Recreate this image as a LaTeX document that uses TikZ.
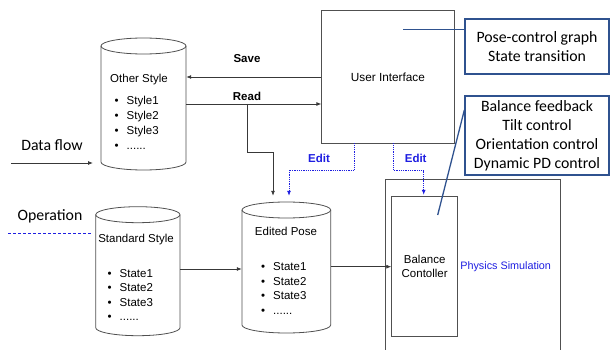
\documentclass[tikz,border=0pt]{standalone}
\usepackage{fontspec}
\setmainfont{Liberation Sans}
\newfontfamily\calib{Carlito}
\usetikzlibrary{arrows.meta}
\definecolor{gline}{RGB}{80,80,80}
\definecolor{eblue}{RGB}{30,30,225}
\definecolor{cblue}{RGB}{47,82,143}
\newcommand\drumcyl[5]{%
  \pgfmathsetmacro\cxr{(#4-#2)/2}%
  \node[inner sep=0pt, minimum width={(#4-#2)*1pt}, minimum height={(#5-#3)*1pt}] (#1) at ({(#2+#4)/2},{(#3+#5)/2}) {};
  \draw[cylline] (#2,{#3+8}) -- (#2,{#5-8})
     arc[start angle=180,end angle=360,x radius=\cxr pt,y radius=8pt]
     -- (#4,{#3+8})
     arc[start angle=0,end angle=180,x radius=\cxr pt,y radius=8pt] -- cycle;
  \draw[cylline] (#2,{#3+8}) arc[start angle=180,end angle=360,x radius=\cxr pt,y radius=8pt];
}
\begin{document}
\begin{tikzpicture}[x=1pt,y=-1pt,
  font=\fontsize{11.5}{14}\selectfont,
  cylline/.style={draw=gline, line width=0.8pt},
  line/.style={draw=gline!70!black, line width=0.8pt},
  arr/.style={-{Latex[length=5pt,width=4pt]}},
  edit/.style={draw=eblue, densely dotted, line width=0.8pt},
  callout/.style={draw=cblue, line width=1.3pt},
  cbox/.style={draw=cblue, line width=1.3pt, inner sep=0pt, align=center,
     font=\calib\fontsize{15.8}{19}\selectfont},
  blist/.style={align=left, inner sep=0pt, anchor=west},
  plain/.style={inner sep=0pt}
]
\useasboundingbox (0,0) rectangle (611,350);

% cylinders
\drumcyl{os}{101}{38}{186}{170}
\drumcyl{ss}{95.7}{206.7}{180}{335.7}
\drumcyl{ep}{242}{202}{330.7}{333}

\node[plain] (ost) at (139,80) {Other Style};
\node[blist, font=\fontsize{11.5}{15}\selectfont] (osl) at (114.5,122.5)
  {\makebox[12pt][l]{\textbullet}Style1\\\makebox[12pt][l]{\textbullet}Style2\\\makebox[12pt][l]{\textbullet}Style3\\\makebox[12pt][l]{\textbullet}......};
\node[plain] (sst) at (136,240) {Standard Style};
\node[blist, font=\fontsize{11.5}{14.5}\selectfont] (ssl) at (107.5,295)
  {\makebox[12pt][l]{\textbullet}State1\\\makebox[12pt][l]{\textbullet}State2\\\makebox[12pt][l]{\textbullet}State3\\\makebox[12pt][l]{\textbullet}......};
\node[plain] (ept) at (286,231) {Edited Pose};
\node[blist, font=\fontsize{11.5}{14.5}\selectfont] (epl) at (261,288.5)
  {\makebox[12pt][l]{\textbullet}State1\\\makebox[12pt][l]{\textbullet}State2\\\makebox[12pt][l]{\textbullet}State3\\\makebox[12pt][l]{\textbullet}......};

% user interface
\node[draw=gline, line width=0.8pt, minimum width=132.3pt, minimum height=132.3pt, inner sep=0pt, font=\fontsize{11.8}{14}\selectfont] (ui) at (387.9,76.9) {User Interface};

% physics simulation and balance controller
\node[draw=gline, line width=0.8pt, minimum width=174.3pt, minimum height=190pt, inner sep=0pt] (ps) at (472.9,274.3) {};
\node[plain, text=eblue, font=\fontsize{10.8}{13}\selectfont] (pst) at (505.7,267) {Physics Simulation};
\node[draw=gline, line width=0.8pt, minimum width=66pt, minimum height=139.3pt, inner sep=0pt, align=center] (bc) at (424.7,266.4) {Balance\\Contoller};

% callout boxes
\node[cbox, minimum width=144pt, minimum height=55pt] (pc) at (537,46.5) {Pose-control graph\\State transition};
\node[cbox, minimum width=144pt, minimum height=79pt] (bf) at (537,135.5) {Balance feedback\\Tilt control\\Orientation control\\Dynamic PD control};

% side labels
\node[plain, font=\calib\fontsize{15.8}{19}\selectfont] (dft) at (52,145) {Data flow};
\node[plain, font=\calib\fontsize{15.8}{19}\selectfont] (opt) at (50,216) {Operation};
\coordinate (df1) at (11,163);
\coordinate (df2) at (93,163);
\draw[line, arr] (df1) -- (df2);
\coordinate (op1) at (8,233.3);
\coordinate (op2) at (90.7,233.3);
\draw[draw=eblue, dash pattern=on 3pt off 2pt, line width=0.8pt] (op1) -- (op2);

% save / read
\coordinate (ysave) at (0,77);
\coordinate (yread) at (0,104);
\draw[line, arr] (ui.west |- ysave) -- (os.east |- ysave);
\draw[line, arr] (os.east |- yread) -- (ui.west |- yread);
\node[plain, font=\bfseries\fontsize{11.5}{14}\selectfont] (sav) at (247,59) {Save};
\node[plain, font=\bfseries\fontsize{11.5}{14}\selectfont] (rea) at (247,96) {Read};
\coordinate (rb) at (247,104);
\coordinate (rbk) at (273,152);
\draw[line, arr, shorten >=6pt] (rb) |- (rbk) -- (rbk |- ep.north);

% edit lines
\coordinate (ek1) at (289,170);
\coordinate (ek2) at (423.7,170);
\draw[edit, arr] ([xshift=-33.6pt]ui.south) |- (ek1) -- ([yshift=6pt]ek1 |- ep.north);
\draw[edit, arr] ([xshift=5.4pt]ui.south) |- (ek2) -- ([yshift=1.5pt]ek2 |- bc.north);
\node[plain, text=eblue, font=\bfseries\fontsize{11.5}{14}\selectfont] (ed1) at (319,158) {Edit};
\node[plain, text=eblue, font=\bfseries\fontsize{11.5}{14}\selectfont] (ed2) at (415.7,158) {Edit};

% flow arrows
\coordinate (yss) at (0,269);
\draw[line, arr] (ss.east |- yss) -- (ep.west |- yss);
\coordinate (yep) at (0,266.7);
\draw[line, arr] (ep.east |- yep) -- (bc.west |- yep);

% callout lines
\coordinate (pcpt) at (403.3,29.3);
\draw[callout] (pcpt) -- (pc.west |- pcpt);
\coordinate (bfy) at (0,110);
\coordinate (bfpt) at (437.7,215);
\draw[callout] (bf.west |- bfy) -- (bfpt);
\end{tikzpicture}
\end{document}
